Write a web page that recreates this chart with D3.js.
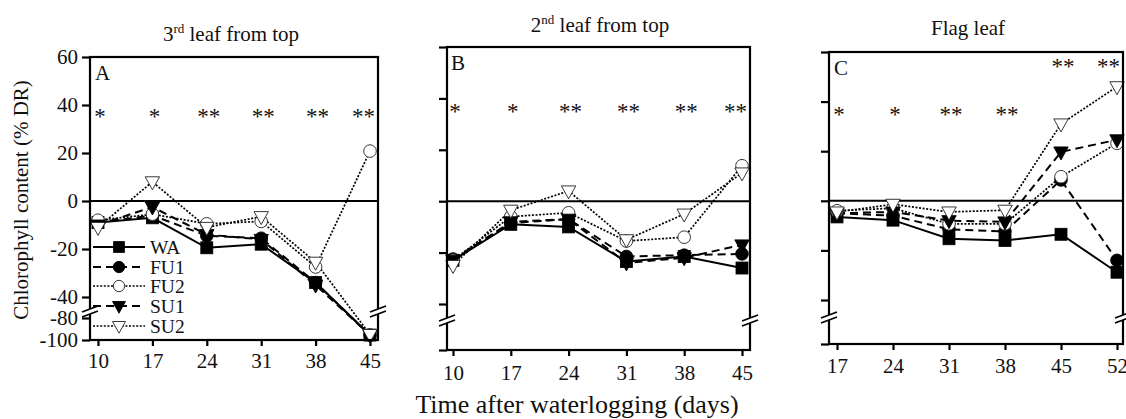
<!DOCTYPE html>
<html><head><meta charset="utf-8">
<script src="https://cdn.jsdelivr.net/npm/d3@7/dist/d3.min.js"></script>
<style>
body{margin:0;background:#fff}
svg{display:block}
text{font-family:"Liberation Serif","Times New Roman",serif;fill:#111}
</style>
</head><body>
<svg id="chart" width="1126" height="419"></svg>
<script>
// ---------- data ----------
const seriesNames = ["WA","FU1","FU2","SU1","SU2"];
const daysA = [10,17,24,31,38,45];
const daysB = [10,17,24,31,38,45];
const daysC = [17,24,31,38,45,52];
const yTickValues = [60,40,20,0,-20,-40,-80,-100];
const yTickLabels = ["60","40","20","0","-20","-40","-80","-100"];

const WA_A  = [-9,-7,-19.5,-18,-34,-95.5];
const FU1_A = [-9,-6,-14.5,-15.5,-34,-95.5];
const FU2_A = [-8,-5.5,-9.5,-8.5,-27.5,20.8];
const SU1_A = [-10,-2.5,-14,-16,-35,-95.5];
const SU2_A = [-11,8,-11,-6.5,-25.5,-95];

const WA_B  = [-23,-9,-10,-23.5,-21.5,-26];
const FU1_B = [-22.5,-8.5,-7,-21.5,-21,-20.5];
const FU2_B = [-23,-6,-4.5,-15.5,-14,13.8];
const SU1_B = [-23,-8,-7,-24,-22,-17];
const SU2_B = [-25,-3.5,4,-15,-5,11];

const WA_C  = [-6.5,-7.8,-15.3,-16,-13.5,-28.8];
const FU1_C = [-5,-6,-11.5,-12.4,8.4,-24];
const FU2_C = [-4,-3,-9.3,-9.3,9.7,23.2];
const SU1_C = [-5,-4.5,-8,-8.5,19.7,24.6];
const SU2_C = [-4.5,-1.4,-4.5,-3.8,31,46];

const starsA = ["*","*","**","**","**","**"];
const starsB = ["*","*","**","**","**","**"];
const starsC = ["*","*","**","**","**","**"];
const starLevelA = [36.5,36.5,36.5,36.5,36.5,36.5];
const starLevelB = [36.2,36.2,36.2,36.2,36.2,36.2];
const starLevelC = [36.3,36.3,36.3,36.3,55.6,55.6];

// ---------- layout ----------
const svg = d3.select("#chart");
const styles = {
  WA:  {dash:null,  width:2,   marker:"square",  fill:"#000"},
  FU1: {dash:"8,5", width:2,   marker:"circle",  fill:"#000"},
  FU2: {dash:"2,1.6", width:1.7, marker:"circle",  fill:"#fff"},
  SU1: {dash:"8,5", width:2,   marker:"tri",     fill:"#000"},
  SU2: {dash:"2,1.6", width:1.7, marker:"tri",     fill:"#fff"}
};

function drawMarker(g, type, fill, cx, cy, s) {
  const stroke = fill === "#000" ? "#000" : "#222";
  if (type === "square") {
    g.append("rect").attr("x", cx - 6*s).attr("y", cy - 6*s).attr("width", 12*s).attr("height", 12*s)
      .attr("fill", fill).attr("stroke", stroke).attr("stroke-width", 0.8);
  } else if (type === "circle") {
    g.append("circle").attr("cx", cx).attr("cy", cy).attr("r", 6.3*s)
      .attr("fill", fill).attr("stroke", stroke).attr("stroke-width", 0.9);
  } else {
    const w = 7.2*s, h1 = 5*s, h2 = 8*s;
    g.append("path").attr("d", `M${cx-w},${cy-h1}L${cx+w},${cy-h1}L${cx},${cy+h2}Z`)
      .attr("fill", fill).attr("stroke", stroke).attr("stroke-width", 0.9);
  }
}

const panels = [
  {key:"A", days:daysA, data:[WA_A,FU1_A,FU2_A,SU1_A,SU2_A], stars:starsA, starLevel:starLevelA,
   x0:90, x1:378, y0:57, y1:340, xr:[98,370], yr:[340,318,297,57], breakY:311,
   labels:true, title:{x:231, y:41, main:"3", sup:"rd", rest:" leaf from top"}, tickBase:368, letter:{x:95,y:80}},
  {key:"B", days:daysB, data:[WA_B,FU1_B,FU2_B,SU1_B,SU2_B], stars:starsB, starLevel:starLevelB,
   x0:447, x1:750, y0:47, y1:350, xr:[453,742], yr:[350,328,304,47], breakY:320,
   labels:false, title:{x:600, y:32, main:"2", sup:"nd", rest:" leaf from top"}, tickBase:380, letter:{x:451,y:70}},
  {key:"C", days:daysC, data:[WA_C,FU1_C,FU2_C,SU1_C,SU2_C], stars:starsC, starLevel:starLevelC,
   x0:829, x1:1123, y0:52, y1:344, xr:[837,1117], yr:[344,322,300,52], breakY:317,
   labels:false, title:{x:968, y:35, main:"Flag leaf", sup:null, rest:""}, tickBase:373, letter:{x:834,y:75}}
];

panels.forEach(p => {
  const g = svg.append("g");
  const x = d3.scaleLinear().domain([p.days[0], p.days[p.days.length-1]]).range(p.xr);
  const y = d3.scaleLinear().domain([-100,-80,-40,60]).range(p.yr);

  g.append("line").attr("x1", p.x0).attr("x2", p.x1).attr("y1", y(0)).attr("y2", y(0))
    .attr("stroke", "#000").attr("stroke-width", 2);

  seriesNames.forEach((name, i) => {
    const st = styles[name];
    const pts = p.days.map((d, j) => [d, p.data[i][j]]);
    const line = d3.line().x(d => x(d[0])).y(d => y(d[1]));
    g.append("path").attr("d", line(pts)).attr("fill", "none").attr("stroke", "#000")
      .attr("stroke-width", st.width).attr("stroke-dasharray", st.dash);
  });
  seriesNames.forEach((name, i) => {
    const st = styles[name];
    p.days.forEach((d, j) => drawMarker(g, st.marker, st.fill, x(d), y(p.data[i][j]), 1));
  });

  g.append("rect").attr("x", p.x0).attr("y", p.y0).attr("width", p.x1 - p.x0).attr("height", p.y1 - p.y0)
    .attr("fill", "none").attr("stroke", "#000").attr("stroke-width", 2.2);

  const yTicks = p.labels ? yTickValues : yTickValues.filter(v => v !== -80);
  const yAxis = d3.axisLeft(y).tickValues(yTicks).tickSize(8)
    .tickFormat(p.labels ? ((v) => yTickLabels[yTickValues.indexOf(v)]) : (() => ""));
  const ya = g.append("g").attr("transform", `translate(${p.x0},0)`).call(yAxis);
  ya.select(".domain").remove();
  ya.selectAll(".tick line").attr("stroke", "#000").attr("stroke-width", 2.2);
  ya.selectAll(".tick text").attr("font-size", 21).attr("fill", "#111")
    .style("font-family", '"Liberation Serif",serif').attr("x", -12);

  const xAxis = d3.axisBottom(x).tickValues(p.days).tickSize(6).tickFormat(d3.format("d"));
  const xa = g.append("g").attr("transform", `translate(0,${p.y1})`).call(xAxis);
  xa.select(".domain").remove();
  xa.selectAll(".tick line").attr("stroke", "#000").attr("stroke-width", 2.2);
  xa.selectAll(".tick text").attr("font-size", 21).attr("fill", "#111")
    .style("font-family", '"Liberation Serif",serif')
    .attr("dy", null).attr("y", p.tickBase - p.y1);

  [p.x0, p.x1].forEach(ax => {
    const by = p.breakY;
    g.append("path").attr("d", `M${ax-8},${by+1}L${ax+8},${by-5}L${ax+8},${by}L${ax-8},${by+6}Z`)
      .attr("fill", "#fff").attr("stroke", "none");
    g.append("line").attr("x1", ax-8).attr("y1", by+1).attr("x2", ax+8).attr("y2", by-5)
      .attr("stroke", "#000").attr("stroke-width", 1.8);
    g.append("line").attr("x1", ax-8).attr("y1", by+6).attr("x2", ax+8).attr("y2", by)
      .attr("stroke", "#000").attr("stroke-width", 1.8);
  });

  p.days.forEach((d, j) => {
    const t = g.append("text").text(p.stars[j]).attr("font-size", 23).attr("fill", "#2b3a4a")
      .attr("text-anchor", "middle").attr("x", x(d) + 2).attr("y", y(p.starLevel[j]) + 11);
    const bb = t.node().getBBox();
    if (bb.x + bb.width > p.x1 - 3) t.attr("x", p.x1 - 3 - bb.width/2);
  });

  g.append("text").text(p.key).attr("x", p.letter.x).attr("y", p.letter.y).attr("font-size", 21);

  const tt = g.append("text").attr("x", p.title.x).attr("y", p.title.y).attr("font-size", 21)
    .attr("text-anchor", "middle");
  tt.append("tspan").text(p.title.main);
  if (p.title.sup) {
    tt.append("tspan").text(p.title.sup).attr("font-size", 13).attr("dy", -8);
    tt.append("tspan").text(p.title.rest).attr("dy", 8);
  }

  if (p.key === "A") {
    const rows = [247, 267, 286, 306, 326];
    seriesNames.forEach((name, i) => {
      const st = styles[name];
      g.append("line").attr("x1", 93).attr("x2", 145).attr("y1", rows[i]).attr("y2", rows[i])
        .attr("stroke", "#000").attr("stroke-width", st.width).attr("stroke-dasharray", st.dash);
      drawMarker(g, st.marker, st.fill, 119, rows[i], 0.9);
      g.append("text").text(name).attr("x", 150).attr("y", rows[i]).attr("dy", "0.35em").attr("font-size", 19.5);
    });
  }
});

svg.append("text").text("Chlorophyll content (% DR)").attr("font-size", 21).attr("text-anchor", "middle")
  .attr("transform", "translate(28,200) rotate(-90)");
svg.append("text").text("Time after waterlogging (days)").attr("font-size", 26).attr("text-anchor", "middle")
  .attr("x", 577).attr("y", 413);
</script>
</body></html>
